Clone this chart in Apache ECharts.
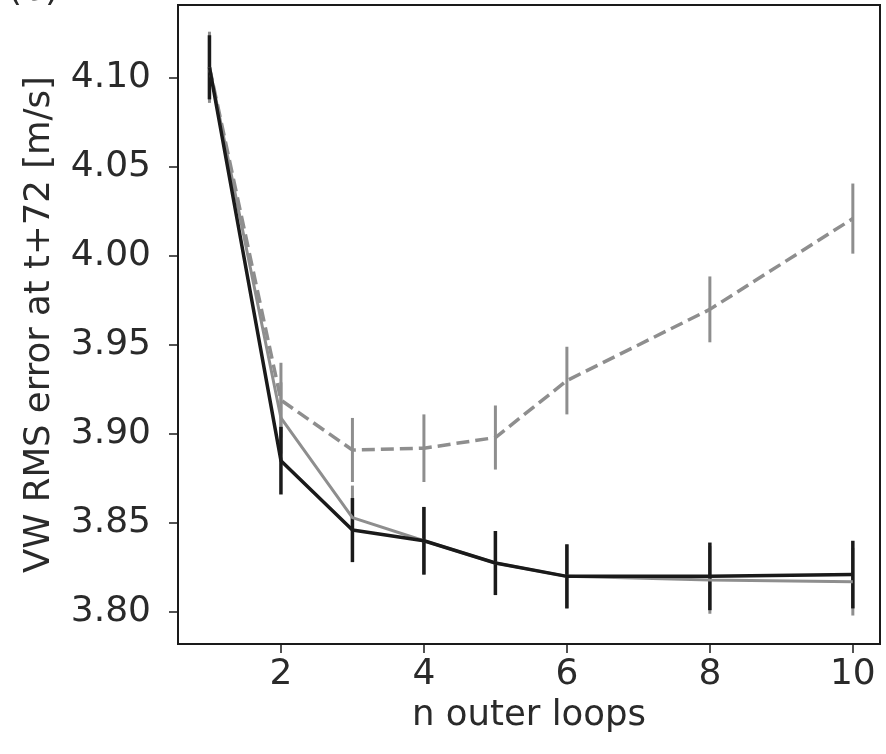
<!DOCTYPE html>
<html>
<head>
<meta charset="utf-8">
<script src="https://cdn.jsdelivr.net/npm/echarts@6/dist/echarts.min.js"></script>
<style>
  html, body { margin: 0; padding: 0; background: #fff; }
  #chart { width: 886px; height: 754px; }
</style>
</head>
<body>
<div id="chart"></div>
<script>
// n outer loops
var loops = [1, 2, 3, 4, 5, 6, 8, 10]

// black solid
var blackMean = [4.106, 3.885, 3.846, 3.840, 3.8275, 3.820, 3.820, 3.821]
var blackErr = [0.018, 0.019, 0.018, 0.019, 0.018, 0.018, 0.019, 0.019]

// gray solid
var grayMean = [4.106, 3.909, 3.853, 3.840, 3.8275, 3.820, 3.818, 3.817]
var grayErr = [0.018, 0.020, 0.018, 0.019, 0.018, 0.018, 0.019, 0.019]

// gray dashed
var dashMean = [4.106, 3.919, 3.891, 3.892, 3.898, 3.930, 3.970, 4.021]
var dashErr = [0.020, 0.021, 0.018, 0.019, 0.018, 0.019, 0.0185, 0.0197]

var xTicks = [2, 4, 6, 8, 10]
var yTicks = [3.80, 3.85, 3.90, 3.95, 4.00, 4.05, 4.10]

var FONT = 'DejaVu Sans'
var TEXT = '#2a2a2a'
var BLACK = '#1a1a1a'
var GRAY = '#8e8e8e'

function pairs(mean) {
  return loops.map(function (x, i) { return [x, mean[i]] })
}

function errData(mean, err) {
  return loops.map(function (x, i) { return [x, mean[i] - err[i], mean[i] + err[i]] })
}

function errSeries(mean, err, color, width) {
  return {
    type: 'custom',
    silent: true,
    data: errData(mean, err),
    encode: { x: 0, y: [1, 2] },
    renderItem: function (params, api) {
      var lo = api.coord([api.value(0), api.value(1)])
      var hi = api.coord([api.value(0), api.value(2)])
      return {
        type: 'line',
        shape: { x1: lo[0], y1: lo[1], x2: hi[0], y2: hi[1] },
        style: { stroke: color, lineWidth: width }
      }
    },
    z: 3
  }
}

function lineSeries(mean, color, width, dash) {
  return {
    type: 'line',
    data: pairs(mean),
    symbol: 'none',
    silent: true,
    lineStyle: { color: color, width: width, type: dash ? [13, 6] : 'solid' },
    z: 3
  }
}

var chart = echarts.init(document.getElementById('chart'))
chart.setOption({
  animation: false,
  backgroundColor: '#fff',
  graphic: [{
    type: 'text',
    left: 8,
    top: -27,
    style: { text: '(b)', font: '36px "DejaVu Sans"', fill: TEXT }
  }],
  grid: {
    left: 178,
    right: 6,
    top: 5,
    bottom: 110,
    show: true,
    borderColor: BLACK,
    borderWidth: 2
  },
  xAxis: {
    type: 'value',
    min: 0.56,
    max: 10.38,
    name: 'n outer loops',
    nameLocation: 'middle',
    nameGap: 45,
    nameTextStyle: { fontFamily: FONT, fontSize: 35.5, color: TEXT },
    splitLine: { show: false },
    axisLine: { show: true, onZero: false, lineStyle: { color: BLACK, width: 2 } },
    axisTick: { show: true, length: 9, customValues: xTicks, lineStyle: { color: BLACK, width: 1.5 } },
    axisLabel: {
      customValues: xTicks,
      margin: 13,
      fontFamily: FONT,
      fontSize: 36,
      color: TEXT
    }
  },
  yAxis: {
    type: 'value',
    min: 3.782,
    max: 4.141,
    name: 'VW RMS error at t+72 [m/s]',
    nameLocation: 'middle',
    nameGap: 120,
    nameTextStyle: { fontFamily: FONT, fontSize: 35.5, color: TEXT },
    splitLine: { show: false },
    axisLine: { show: true, onZero: false, lineStyle: { color: BLACK, width: 2 } },
    axisTick: { show: true, length: 9, customValues: yTicks, lineStyle: { color: BLACK, width: 1.5 } },
    axisLabel: {
      customValues: yTicks,
      margin: 27,
      fontFamily: FONT,
      fontSize: 36,
      color: TEXT,
      formatter: function (v) { return v.toFixed(2) }
    }
  },
  series: [
    lineSeries(dashMean, GRAY, 3.5, true),
    errSeries(dashMean, dashErr, GRAY, 3),
    lineSeries(grayMean, GRAY, 3, false),
    errSeries(grayMean, grayErr, GRAY, 3),
    lineSeries(blackMean, BLACK, 3.5, false),
    errSeries(blackMean, blackErr, BLACK, 3.5)
  ]
})
</script>
</body>
</html>
